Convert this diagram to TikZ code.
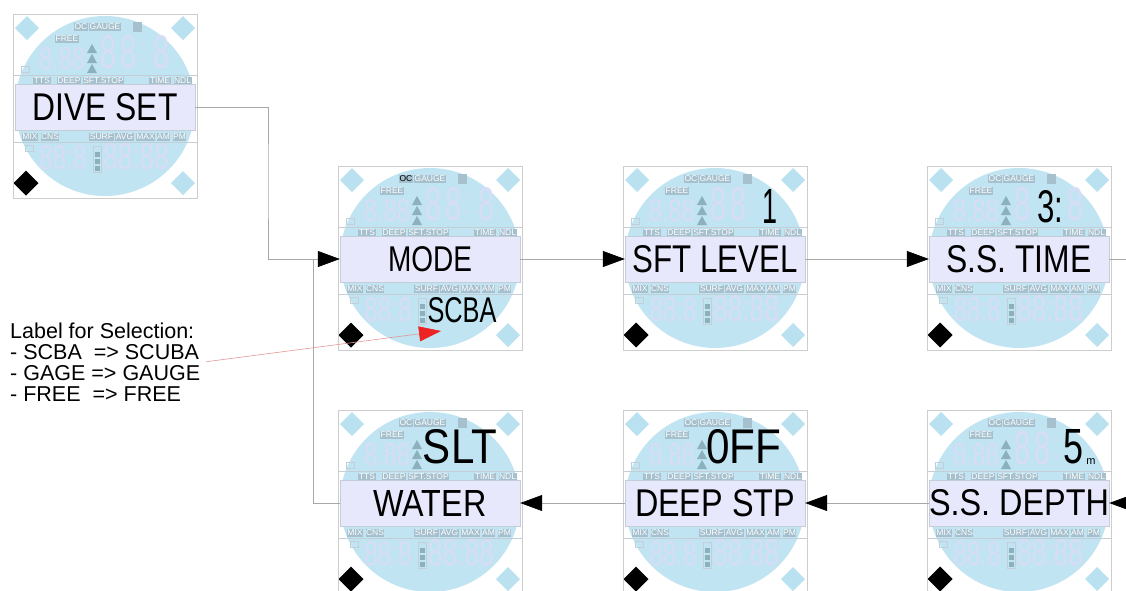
\documentclass[tikz,border=0pt]{standalone}
\usepackage{fontspec}
\setmainfont{Liberation Sans}
\usepackage{graphicx}
\usetikzlibrary{arrows.meta}

\definecolor{lcdblue}{RGB}{192,228,241}
\definecolor{lcddia}{RGB}{186,225,240}
\definecolor{lcdband}{RGB}{232,232,252}
\definecolor{lcdseg}{RGB}{216,220,246}
\definecolor{lcdlblc}{RGB}{166,192,206}
\definecolor{lcdtri}{RGB}{140,176,188}
\definecolor{lcdrule}{RGB}{196,206,214}
\definecolor{framec}{RGB}{205,205,205}
\definecolor{connc}{RGB}{168,168,168}
\definecolor{lcdred}{RGB}{236,36,36}
\definecolor{lcdredl}{RGB}{228,150,150}

\tikzset{
  conn/.style={draw=connc, line width=0.7pt},
  flow/.style={conn, -{Triangle[length=22pt,width=16pt,color=black]}},
  band/.style={fill=lcdband, draw=lcdrule, line width=0.4pt, minimum width=180pt,
    minimum height=46pt, inner sep=0pt},
  lcdlbl/.style={fill=lcdlblc, text=white, font=\fontsize{8.5}{8.5}\selectfont,
    inner xsep=0.5pt, inner ysep=0.6pt},
  seg/.style={text=lcdseg, inner sep=0pt},
  val/.style={text=black, inner sep=0pt},
  redline/.style={draw=lcdredl, line width=0.6pt,
    -{Triangle[length=22pt,width=15pt,color=lcdred]}},
}

% segments of the large upper read-out
\newcommand\dA{\node[seg] at (3,-54) {\resizebox{16pt}{33pt}{8}};}
\newcommand\dB{\node[seg] at (23,-54) {\resizebox{16pt}{33pt}{8}};}
\newcommand\dColon{\node[seg] at (37,-54) {\resizebox{4pt}{20pt}{:}};}
\newcommand\dC{\node[seg] at (56,-54) {\resizebox{16pt}{33pt}{8}};}
% lower right read-out
\newcommand\lowR{\node[seg] at (31,51) {\resizebox{66pt}{26pt}{88:88}};}

% one LCD face of the dive computer, drawn round its centre;
% #1 colours the OC indicator, #4 and #5 draw the unused segments
\newcommand\lcdface[5][white]{%
\begin{scope}[shift={(#2,#3)}]
  \fill[white] (-92,-92) rectangle (92,92);
  \fill[lcdblue] (0,0) circle (90pt);
  \foreach \dx/\dy in {-78/-78, 78/-78, 78/77}
    \fill[lcddia] (\dx-12,\dy) -- (\dx,\dy-12) -- (\dx+12,\dy) -- (\dx,\dy+12) -- cycle;
  \fill[black] (-91.5,77) -- (-79,64.5) -- (-66.5,77) -- (-79,89.5) -- cycle;
  \draw[lcdrule, line width=0.4pt] (-92,-31) -- (92,-31);
  \draw[lcdrule, line width=0.4pt] (-92,36) -- (92,36);
  % upper indicators
  \node[lcdlbl, text=#1] at (-24,-79) {OC};
  \node[lcdlbl] at (0,-79) {GAUGE};
  \fill[lcdlblc] (28,-84) rectangle (37,-74);
  \node[lcdlbl] at (-38,-67) {FREE};
  \foreach \ty in {-62,-52,-42}
    \fill[lcdtri] (-18,\ty+9) -- (-13,\ty) -- (-8,\ty+9) -- cycle;
  \draw[lcdrule, line width=0.4pt] (-84,-40) rectangle (-76,-34);
  \node[seg] at (-43,-47) {\resizebox{46pt}{22pt}{8.88}};
  #4
  % label rows
  \node[lcdlbl] at (-63,-25.5) {TTS};
  \node[lcdlbl] at (-36,-25.5) {DEEP};
  \node[lcdlbl] at (-1.5,-25.5) {SFT.STOP};
  \node[lcdlbl] at (55,-25.5) {TIME};
  \node[lcdlbl] at (77.5,-25.5) {NDL};
  \node[lcdlbl] at (-75,31) {MIX};
  \node[lcdlbl] at (-55,31) {CNS};
  \node[lcdlbl] at (-3.5,31) {SURF};
  \node[lcdlbl] at (19.5,31) {AVG};
  \node[lcdlbl] at (40.5,31) {MAX};
  \node[lcdlbl] at (58.5,31) {AM};
  \node[lcdlbl] at (74.5,31) {PM};
  % lower digits
  \draw[lcdrule, line width=0.4pt] (-80,39) rectangle (-72,45);
  \node[seg] at (-42,52) {\resizebox{47pt}{24pt}{88:8}};
  \draw[lcdrule, line width=0.4pt] (-12,40) rectangle (-4,66);
  \foreach \by in {46,53,60}
    \fill[lcdtri] (-10.5,\by) rectangle (-5.5,\by+5);
  #5
  \draw[framec, line width=0.5pt] (-92,-92) rectangle (92,92);
\end{scope}}

\begin{document}
\begin{tikzpicture}[x=1pt, y=-1pt]
  \useasboundingbox (0,0) rectangle (1126,590);

  % faces
  \lcdface{105}{106}{\dA\dB\dColon\dC}{\lowR}
  \lcdface[black]{430}{258}{\dA\dB\dColon\dC}{}
  \lcdface{715}{258}{\dA\dB\dColon}{\lowR}
  \lcdface{1019}{258}{\dA\dC}{\lowR}
  \lcdface{430}{502}{}{\lowR}
  \lcdface{715}{502}{}{\lowR}
  \lcdface{1019}{502}{\dA\dB\dColon}{\lowR}

  % menu bands
  \node[band] (diveset) at (105,107) {\resizebox{145pt}{27pt}{DIVE SET}};
  \node[band] (mode)    at (430,259) {\resizebox{84pt}{25pt}{MODE}};
  \node[band] (sftlvl)  at (715,259) {\resizebox{165pt}{27pt}{SFT LEVEL}};
  \node[band] (sstime)  at (1019,259) {\resizebox{145pt}{27pt}{S.S. TIME}};
  \node[band] (water)   at (430,503) {\resizebox{113pt}{26pt}{WATER}};
  \node[band] (deepstp) at (715,503) {\resizebox{160pt}{27pt}{DEEP STP}};
  \node[band] (ssdepth) at (1019,503) {\resizebox{180pt}{26pt}{S.S. DEPTH}};

  % values shown on each face
  \node[val] (scba)  at (462,310) {\resizebox{69pt}{25pt}{SCBA}};
  \node[val] (lvl)   at (770,206) {\resizebox{15pt}{34pt}{1}};
  \node[val] (sst)   at (1050,207) {\resizebox{26pt}{32pt}{3:}};
  \node[val] (slt)   at (460,447) {\resizebox{74pt}{34pt}{SLT}};
  \node[val] (off)   at (744,447) {\resizebox{75pt}{34pt}{0FF}};
  \node[val] (ssd)   at (1073,447) {\resizebox{20pt}{34pt}{5}};
  \node[val, font=\fontsize{11}{11}\selectfont] (unit) at (1091,462) {m};

  % connectors
  \coordinate (bendA) at (268,180);
  \coordinate (joinM) at (313,259);
  \coordinate (exitR) at (1126,259);
  \coordinate (entR)  at (1126,503);
  \draw[flow] (diveset.east) -| (bendA) |- (mode.west);
  \draw[conn] (water.west) -| (joinM);
  \draw[flow] (mode.east) -- (sftlvl.west);
  \draw[flow] (sftlvl.east) -- (sstime.west);
  \draw[conn] (sstime.east) -- (exitR);
  \draw[flow] (entR) -- (ssdepth.east);
  \draw[flow] (ssdepth.west) -- (deepstp.east);
  \draw[flow] (deepstp.west) -- (water.east);

  % selection legend
  \node[anchor=north west, align=left, inner sep=0pt,
        font=\fontsize{21.5}{21}\selectfont] (lbl) at (10,323)
    {Label for Selection:\\- SCBA\ \ => SCUBA\\- GAGE => GAUGE\\- FREE\ \ => FREE};
  \coordinate (scbatip) at (441,331);
  \draw[redline, shorten <=6pt] (lbl.east) -- (scbatip);
\end{tikzpicture}
\end{document}
